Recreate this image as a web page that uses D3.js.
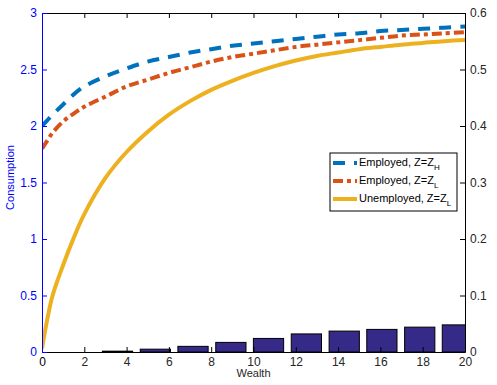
<!DOCTYPE html>
<html>
<head>
<meta charset="utf-8">
<script src="https://cdn.jsdelivr.net/npm/d3@7"></script>
<style>
  body { margin: 0; background: #fff; }
  text { font-family: "Liberation Sans", Arial, sans-serif; }
</style>
</head>
<body>
<div id="chart"></div>
<script>
// wealth grid points used for the consumption curves
const wealth = [0, 0.25, 0.5, 1, 1.5, 2, 3, 4, 5, 6, 7, 8, 9, 10, 11, 12, 13, 14, 15, 16, 17, 18, 19, 20];
const employedHigh = [2.0, 2.05, 2.1, 2.19, 2.28, 2.35, 2.44, 2.51, 2.57, 2.61, 2.65, 2.68, 2.71, 2.73, 2.75, 2.77, 2.79, 2.81, 2.82, 2.84, 2.85, 2.86, 2.87, 2.88];
const employedLow = [1.8, 1.87, 1.94, 2.04, 2.11, 2.17, 2.26, 2.35, 2.41, 2.47, 2.52, 2.57, 2.61, 2.64, 2.67, 2.70, 2.72, 2.74, 2.76, 2.78, 2.80, 2.81, 2.82, 2.83];
const unemployedLow = [0.03, 0.29, 0.5, 0.77, 1.01, 1.22, 1.54, 1.77, 1.95, 2.10, 2.22, 2.32, 2.40, 2.47, 2.53, 2.58, 2.62, 2.65, 2.68, 2.70, 2.72, 2.735, 2.75, 2.76];

// wealth distribution (right axis)
const binCenters = [3.57, 5.36, 7.14, 8.93, 10.71, 12.50, 14.29, 16.07, 17.86, 19.64];
const binShares = [0.0015, 0.005, 0.010, 0.017, 0.024, 0.032, 0.037, 0.040, 0.044, 0.048];
const binWidth = 1.43;

const xTicks = [0, 2, 4, 6, 8, 10, 12, 14, 16, 18, 20];
const leftTicks = [0, 0.5, 1, 1.5, 2, 2.5, 3];
const rightTicks = [0, 0.1, 0.2, 0.3, 0.4, 0.5, 0.6];

const width = 497;
const height = 385;
const margin = { top: 13, right: 32, bottom: 33, left: 42 };
const innerW = width - margin.left - margin.right;
const innerH = height - margin.top - margin.bottom;

const svg = d3.select('#chart')
    .append('svg')
    .attr('width', width)
    .attr('height', height);

const g = svg.append('g')
    .attr('transform', `translate(${margin.left},${margin.top})`);

const x = d3.scaleLinear().domain([0, 20]).range([0, innerW]);
const yL = d3.scaleLinear().domain([0, 3]).range([innerH, 0]);
const yR = d3.scaleLinear().domain([0, 0.6]).range([innerH, 0]);

g.append('clipPath').attr('id', 'plotclip')
    .append('rect').attr('width', innerW).attr('height', innerH);

// bars
g.append('g')
    .attr('clip-path', 'url(#plotclip)')
    .selectAll('rect')
    .data(binCenters)
    .enter()
    .append('rect')
    .attr('x', (d) => x(d - binWidth / 2))
    .attr('width', x(binWidth) - x(0))
    .attr('y', (d, i) => yR(binShares[i]))
    .attr('height', (d, i) => innerH - yR(binShares[i]))
    .attr('fill', '#352a87')
    .attr('stroke', '#000')
    .attr('stroke-width', 1);

// lines
const series = [
    { values: employedHigh, color: '#0072bd', dash: '12,9' },
    { values: employedLow, color: '#d95319', dash: '10,4,4,4' },
    { values: unemployedLow, color: '#edb120', dash: null },
];

series.forEach((s) => {
    const line = d3.line()
        .x((d, i) => x(wealth[i]))
        .y((d) => yL(d))
        .curve(d3.curveCatmullRom.alpha(0.5));
    g.append('path')
        .datum(s.values)
        .attr('fill', 'none')
        .attr('stroke', s.color)
        .attr('stroke-width', 4)
        .attr('stroke-dasharray', s.dash)
        .attr('clip-path', 'url(#plotclip)')
        .attr('d', line);
});

// axes (inward ticks, matlab style)
const xBottom = g.append('g')
    .attr('transform', `translate(0,${innerH})`)
    .call(d3.axisBottom(x).tickValues(xTicks).tickSizeInner(-5).tickSizeOuter(0).tickPadding(5));
const xTop = g.append('g')
    .call(d3.axisTop(x).tickValues(xTicks).tickSizeInner(-5).tickSizeOuter(0).tickFormat(''));
const yRight = g.append('g')
    .attr('transform', `translate(${innerW},0)`)
    .call(d3.axisRight(yR).tickValues(rightTicks).tickSizeInner(-5).tickSizeOuter(0).tickPadding(5).tickFormat(d3.format('')));
const yLeft = g.append('g')
    .call(d3.axisLeft(yL).tickValues(leftTicks).tickSizeInner(-5).tickSizeOuter(0).tickPadding(5).tickFormat(d3.format('')));

[xBottom, xTop, yRight].forEach((a) => {
    a.selectAll('path, line').attr('stroke', '#000');
    a.selectAll('text').attr('fill', '#262626').style('font-size', '12px');
});
yLeft.selectAll('path, line').attr('stroke', '#0000ff');
yLeft.selectAll('text').attr('fill', '#0000ff').style('font-size', '12px');
xBottom.select('.tick text').attr('fill', '#000');

// axis labels
g.append('text')
    .attr('x', innerW / 2)
    .attr('y', innerH + 25)
    .attr('text-anchor', 'middle')
    .style('font-size', '11px')
    .attr('fill', '#262626')
    .text('Wealth');

g.append('text')
    .attr('transform', 'rotate(-90)')
    .attr('x', -innerH / 2 + 5)
    .attr('y', -28)
    .attr('text-anchor', 'middle')
    .style('font-size', '11px')
    .attr('fill', '#0000ff')
    .text('Consumption');

// legend
const legend = svg.append('g').attr('transform', 'translate(330,153)');
legend.append('rect')
    .attr('width', 127)
    .attr('height', 58)
    .attr('fill', '#fff')
    .attr('stroke', '#000')
    .attr('stroke-width', 1);

const legendItems = [
    { label: 'Employed, Z=Z', sub: 'H' },
    { label: 'Employed, Z=Z', sub: 'L' },
    { label: 'Unemployed, Z=Z', sub: 'L' },
];

legendItems.forEach((item, i) => {
    const yy = 10 + i * 18;
    legend.append('line')
        .attr('x1', 3).attr('x2', 27)
        .attr('y1', yy).attr('y2', yy)
        .attr('stroke', series[i].color)
        .attr('stroke-width', 4)
        .attr('stroke-dasharray', series[i].dash);
    const t = legend.append('text')
        .attr('x', 29)
        .attr('y', yy + 3)
        .style('font-size', '11px')
        .attr('fill', '#000');
    t.append('tspan').text(item.label);
    t.append('tspan')
        .attr('dy', 4)
        .style('font-size', '8px')
        .text(item.sub);
});
</script>
</body>
</html>
